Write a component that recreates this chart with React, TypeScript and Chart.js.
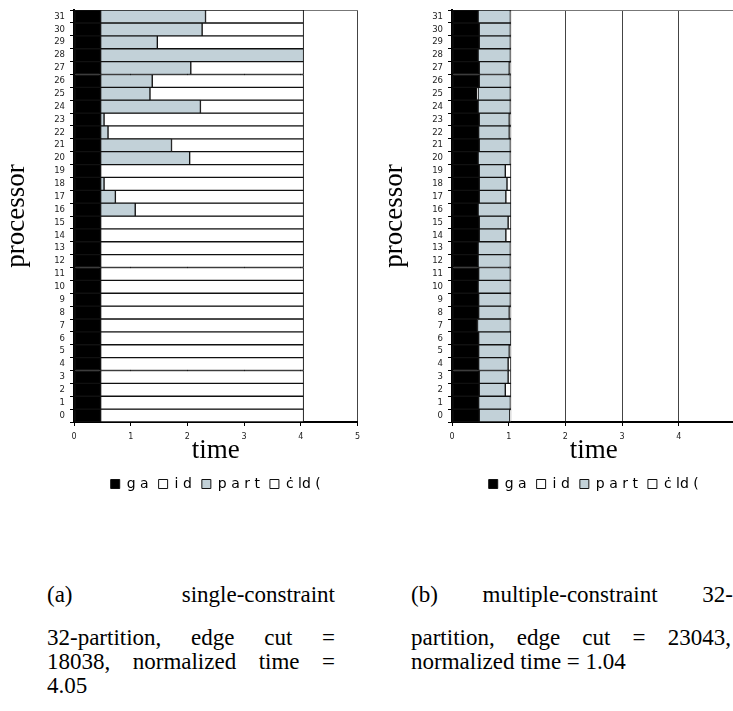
import React, { useEffect, useRef } from "react";
import { Chart, registerables } from "chart.js";

Chart.register(...registerables);

// ---------- data ----------
const PROCESSORS = [
  "0", "1", "2", "3", "4", "5", "6", "7", "8", "9", "10", "11", "12", "13", "14", "15",
  "16", "17", "18", "19", "20", "21", "22", "23", "24", "25", "26", "27", "28", "29", "30", "31",
];
const X_TICKS = [0, 1, 2, 3, 4, 5];
const LEGEND_LABELS = ["g a", "i d", "p a r t", "ċ ld ("];

// (a) single-constraint partition
const GA_A = [
  0.47, 0.47, 0.47, 0.47, 0.47, 0.47, 0.47, 0.47, 0.47, 0.47, 0.47, 0.47, 0.47, 0.47, 0.47, 0.47,
  0.47, 0.47, 0.47, 0.47, 0.47, 0.47, 0.47, 0.47, 0.47, 0.47, 0.47, 0.47, 0.47, 0.47, 0.47, 0.47,
];
const ID_A = [
  0, 0, 0, 0, 0, 0, 0, 0, 0, 0, 0, 0, 0, 0, 0, 0,
  0, 0, 0, 0, 0, 0, 0, 0, 0, 0, 0, 0, 0, 0, 0, 0,
];
const PART_A = [
  0, 0, 0, 0, 0, 0, 0, 0, 0, 0, 0, 0, 0, 0, 0, 0,
  0.61, 0.26, 0.06, 0, 1.57, 1.25, 0.13, 0.06, 1.76, 0.87, 0.91, 1.59, 3.58, 1.0, 1.79, 1.85,
];
const IDLE_A = [
  3.58, 3.58, 3.58, 3.58, 3.58, 3.58, 3.58, 3.58, 3.58, 3.58, 3.58, 3.58, 3.58, 3.58, 3.58, 3.58,
  2.97, 3.32, 3.52, 3.58, 2.01, 2.33, 3.45, 3.52, 1.82, 2.71, 2.67, 1.99, 0, 2.58, 1.79, 1.73,
];

// (b) multiple-constraint partition
const GA_B = [
  0.48, 0.47, 0.48, 0.48, 0.47, 0.47, 0.47, 0.45, 0.47, 0.47, 0.46, 0.47, 0.46, 0.46, 0.48, 0.48,
  0.46, 0.48, 0.48, 0.48, 0.46, 0.48, 0.47, 0.48, 0.46, 0.44, 0.48, 0.48, 0.46, 0.48, 0.48, 0.46,
];
const ID_B = [
  0, 0, 0, 0, 0, 0, 0, 0, 0, 0, 0, 0, 0, 0, 0, 0,
  0, 0, 0, 0, 0, 0, 0, 0, 0, 0.02, 0, 0, 0, 0, 0, 0,
];
const PART_B = [
  0.54, 0.56, 0.46, 0.51, 0.52, 0.54, 0.57, 0.58, 0.54, 0.56, 0.57, 0.56, 0.57, 0.57, 0.47, 0.51,
  0.58, 0.47, 0.49, 0.46, 0.57, 0.55, 0.54, 0.53, 0.57, 0.57, 0.55, 0.53, 0.57, 0.55, 0.55, 0.57,
];
const IDLE_B = [
  0.02, 0.01, 0.1, 0.05, 0.05, 0.03, 0, 0.01, 0.03, 0.01, 0.01, 0.01, 0.01, 0.01, 0.09, 0.05,
  0, 0.09, 0.07, 0.1, 0.01, 0.01, 0.03, 0.03, 0.01, 0.01, 0.01, 0.03, 0.01, 0.01, 0.01, 0.01,
];

const CAPTION_A_LINE1 = ["(a)", "single-constraint"];
const CAPTION_A_LINE2 = ["32-partition,", "edge", "cut", "="];
const CAPTION_A_LINE3 = ["18038,", "normalized", "time", "="];
const CAPTION_A_LINE4 = "4.05";
const CAPTION_B_LINE1 = ["(b)", "multiple-constraint", "32-"];
const CAPTION_B_LINE2 = ["partition,", "edge", "cut", "=", "23043,"];
const CAPTION_B_LINE3 = "normalized time = 1.04";

// ---------- styles ----------
const BLACK = "#000000";
const WHITE = "#ffffff";
const GREY = "#c2d1d8";
const SANS = "'DejaVu Sans', Verdana, sans-serif";
const SERIF = "'Liberation Serif', 'Times New Roman', serif";

function makeConfig(ga: number[], id: number[], part: number[], idle: number[]): any {
  const ds = (label: string, data: number[], color: string) => ({
    label,
    data,
    backgroundColor: color,
    borderColor: "#111",
    borderWidth: 1,
    borderSkipped: false,
  });
  return {
    type: "bar",
    data: {
      labels: PROCESSORS,
      datasets: [
        ds(LEGEND_LABELS[0], ga, BLACK),
        ds(LEGEND_LABELS[1], id, WHITE),
        ds(LEGEND_LABELS[2], part, GREY),
        ds(LEGEND_LABELS[3], idle, WHITE),
      ],
    },
    options: {
      indexAxis: "y",
      animation: false,
      responsive: false,
      events: [],
      datasets: { bar: { barPercentage: 1, categoryPercentage: 1 } },
      layout: { padding: { left: 0, right: 8, top: 8, bottom: 0 } },
      plugins: {
        legend: {
          position: "bottom",
          fullSize: false,
          labels: {
            boxWidth: 9,
            boxHeight: 9,
            padding: 10,
            color: "#000",
            font: { family: SANS, size: 14 },
          },
        },
        tooltip: { enabled: false },
      },
      scales: {
        x: {
          type: "linear",
          position: "bottom",
          stacked: true,
          min: 0,
          max: 5,
          afterBuildTicks: (s: any) => {
            s.ticks = X_TICKS.map((v) => ({ value: v }));
          },
          ticks: {
            color: "#222",
            padding: 6,
            maxRotation: 0,
            font: { family: SANS, size: 8 },
          },
          grid: { color: "#444", lineWidth: 1, tickColor: "#000", tickLength: 4 },
          border: { color: "#000", width: 2 },
          title: {
            display: true,
            text: "time",
            color: "#000",
            font: { family: SERIF, size: 27 },
            padding: { top: 0, bottom: 0 },
          },
          afterFit: (s: any) => {
            s.height = 45;
          },
        },
        x2: {
          type: "linear",
          position: "top",
          min: 0,
          max: 5,
          ticks: { display: false },
          grid: { display: false },
          border: { display: true, color: "#777", width: 1 },
          afterFit: (s: any) => {
            s.height = 0;
          },
        },
        y: {
          type: "category",
          stacked: true,
          reverse: true,
          ticks: {
            color: "#222",
            padding: 5,
            autoSkip: false,
            font: { family: SANS, size: 8.5 },
          },
          grid: { drawOnChartArea: false, tickColor: "#000", tickLength: 4, offset: true },
          border: { color: "#000", width: 2 },
          title: {
            display: true,
            text: "processor",
            color: "#000",
            font: { family: SERIF, size: 27 },
            padding: { top: 1, bottom: 0 },
          },
          afterFit: (s: any) => {
            s.width = 74;
          },
        },
      },
    },
  };
}

function Panel(props: { ga: number[]; id: number[]; part: number[]; idle: number[]; left: number }) {
  const ref = useRef<HTMLCanvasElement | null>(null);
  useEffect(() => {
    if (!ref.current) return;
    const chart = new Chart(ref.current, makeConfig(props.ga, props.id, props.part, props.idle));
    return () => chart.destroy();
  }, []);
  return (
    <canvas
      ref={ref}
      width={366}
      height={501}
      style={{ position: "absolute", left: props.left, top: 0, width: 366, height: 501 }}
    />
  );
}

const captionFont: React.CSSProperties = {
  fontFamily: SERIF,
  fontSize: 23,
  lineHeight: "24px",
  color: "#000",
  whiteSpace: "nowrap",
};

function Row(props: { words: string[]; left: number; top: number; width: number }) {
  return (
    <div
      style={{
        ...captionFont,
        position: "absolute",
        left: props.left,
        top: props.top,
        width: props.width,
        display: "flex",
        justifyContent: "space-between",
      }}
    >
      {props.words.map((w, i) => (
        <span key={i}>{w}</span>
      ))}
    </div>
  );
}

export default function App() {
  return (
    <div
      style={{
        position: "absolute",
        left: 0,
        top: 0,
        width: 733,
        height: 711,
        overflow: "hidden",
        background: "#fff",
      }}
    >
      <Panel ga={GA_A} id={ID_A} part={PART_A} idle={IDLE_A} left={0} />
      <Panel ga={GA_B} id={ID_B} part={PART_B} idle={IDLE_B} left={378} />

      <Row words={CAPTION_A_LINE1} left={47} top={583} width={288} />
      <Row words={CAPTION_A_LINE2} left={47} top={626} width={288} />
      <Row words={CAPTION_A_LINE3} left={47} top={650} width={288} />
      <div style={{ ...captionFont, position: "absolute", left: 47, top: 674 }}>{CAPTION_A_LINE4}</div>

      <Row words={CAPTION_B_LINE1} left={411} top={583} width={322} />
      <Row words={CAPTION_B_LINE2} left={411} top={626} width={320} />
      <div style={{ ...captionFont, position: "absolute", left: 411, top: 650 }}>
        {CAPTION_B_LINE3}
      </div>
    </div>
  );
}
